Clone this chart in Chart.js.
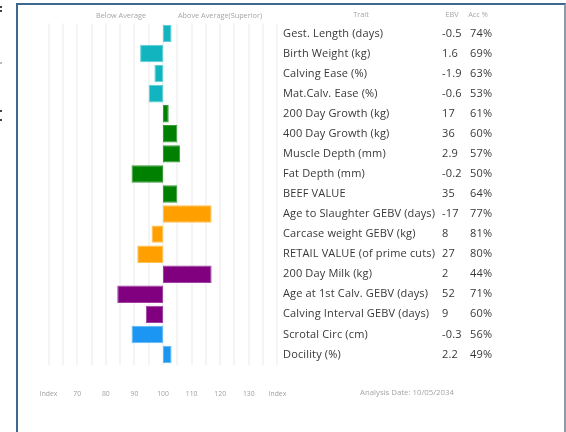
<!DOCTYPE html>
<html>
<head>
<meta charset="utf-8">
<script src="https://cdn.jsdelivr.net/npm/chart.js@4.4.1/dist/chart.umd.min.js"></script>
<style>
  html, body { margin: 0; padding: 0; background: #fff; }
  #wrap { position: relative; width: 566px; height: 432px; overflow: hidden; }
  #frame { position: absolute; left: 16px; top: 3px; width: 546px; height: 440px;
           border-left: 2px solid #3d6890; border-top: 2px solid #3d6890; border-right: 2px solid #8d9cab; }
  .mk { position: absolute; left: 0; width: 2px; height: 2px; background: #444; }
  canvas { position: absolute; left: 0; top: 0; }
</style>
</head>
<body>
<div id="wrap">
  <div id="frame"></div>
  <div class="mk" style="top:6px"></div>
  <div class="mk" style="top:10px"></div>
  <div class="mk" style="top:62px;background:#bbb"></div>
  <div class="mk" style="top:110px"></div>
  <div class="mk" style="top:119px"></div>
  <canvas id="c" width="566" height="432"></canvas>
</div>
<script>
const traits = [
  'Gest. Length (days)', 'Birth Weight (kg)', 'Calving Ease (%)', 'Mat.Calv. Ease (%)',
  '200 Day Growth (kg)', '400 Day Growth (kg)', 'Muscle Depth (mm)', 'Fat Depth (mm)',
  'BEEF VALUE', 'Age to Slaughter GEBV (days)', 'Carcase weight GEBV (kg)',
  'RETAIL VALUE (of prime cuts)', '200 Day Milk (kg)', 'Age at 1st Calv. GEBV (days)',
  'Calving Interval GEBV (days)', 'Scrotal Circ (cm)', 'Docility (%)'
];
const ebv = ['-0.5', '1.6', '-1.9', '-0.6', '17', '36', '2.9', '-0.2', '35', '-17', '8', '27', '2', '52', '9', '-0.3', '2.2'];
const acc = ['74%', '69%', '63%', '53%', '61%', '60%', '57%', '50%', '64%', '77%', '81%', '80%', '44%', '71%', '60%', '56%', '49%'];
const indexValues = [103, 92, 97, 95, 102, 105, 106, 89, 105, 117, 96, 91, 117, 84, 94, 89, 103];
const groups = ['calving', 'calving', 'calving', 'calving', 'growth', 'growth', 'growth', 'growth', 'growth',
  'carcase', 'carcase', 'carcase', 'maternal', 'maternal', 'maternal', 'other', 'other'];
const groupColors = { calving: '#12b4bf', growth: '#008000', carcase: '#ffa000', maternal: '#800080', other: '#1b97f3' };
const groupBorders = { calving: '#5fd0d6', growth: '#3a9a3a', carcase: '#ffc050', maternal: '#a040a0', other: '#60b8f6' };
const tickLabels = { 60: 'Index', 70: '70', 80: '80', 90: '90', 100: '100', 110: '110', 120: '120', 130: '130', 140: 'Index' };
const headers = { below: 'Below Average', above: 'Above Average(Superior)', trait: 'Trait', ebv: 'EBV', acc: 'Acc %' };
const analysisDate = 'Analysis Date: 10/05/2034';
const baseline = 100;

const FONT = '"Open Sans", sans-serif';

const tablePlugin = {
  id: 'tablePlugin',
  afterDraw(chart) {
    const ctx = chart.ctx;
    const y = chart.scales.y;
    ctx.save();
    ctx.textBaseline = 'middle';
    ctx.textAlign = 'left';
    ctx.fillStyle = '#383838';
    ctx.font = '11px ' + FONT;
    try { ctx.letterSpacing = '0.15px'; } catch (e) {}
    traits.forEach((t, i) => {
      const py = y.getPixelForValue(i);
      ctx.fillText(t, 283, py);
      const w = ctx.measureText(t).width;
      const ex = Math.max(442, 283 + w + 3);
      ctx.fillText(ebv[i], ex, py);
      ctx.fillText(acc[i], 470, py);
    });
    try { ctx.letterSpacing = '0px'; } catch (e) {}
    ctx.fillStyle = '#a5a5a5';
    ctx.font = '7.3px ' + FONT;
    ctx.textAlign = 'center';
    ctx.fillText(headers.below, 121, 15.5);
    ctx.fillText(headers.above, 220, 15.5);
    ctx.fillText(headers.trait, 361, 14.5);
    ctx.fillText(headers.ebv, 452, 14.5);
    ctx.fillText(headers.acc, 478, 14.5);
    ctx.textAlign = 'left';
    ctx.font = '7.8px ' + FONT;
    ctx.fillText(analysisDate, 360, 393);
    ctx.restore();
  }
};

new Chart(document.getElementById('c'), {
  type: 'bar',
  data: {
    labels: traits,
    datasets: [{
      data: indexValues.map(v => [baseline, v]),
      backgroundColor: groups.map(g => groupColors[g]),
      borderColor: groups.map(g => groupBorders[g]),
      borderWidth: 1,
      borderSkipped: false,
      barPercentage: 0.87,
      categoryPercentage: 1
    }]
  },
  options: {
    indexAxis: 'y',
    responsive: false,
    animation: false,
    devicePixelRatio: 1,
    layout: { padding: { left: 48.6, right: 288.6, top: 23.5, bottom: 0 } },
    plugins: { legend: { display: false }, tooltip: { enabled: false } },
    scales: {
      y: { display: false },
      x: {
        min: 60, max: 140,
        position: 'bottom',
        afterFit(scale) { scale.height = 432 - 364.5; },
        border: { display: false },
        grid: { color: '#f4f4f4', lineWidth: 2, drawTicks: false },
        ticks: {
          stepSize: 5,
          autoSkip: false,
          maxRotation: 0,
          padding: 25,
          color: '#a0a0a0',
          font: { size: 6.8, family: FONT },
          callback(v) { return tickLabels[v] !== undefined ? tickLabels[v] : ''; }
        }
      }
    }
  },
  plugins: [tablePlugin]
});
</script>
</body>
</html>
